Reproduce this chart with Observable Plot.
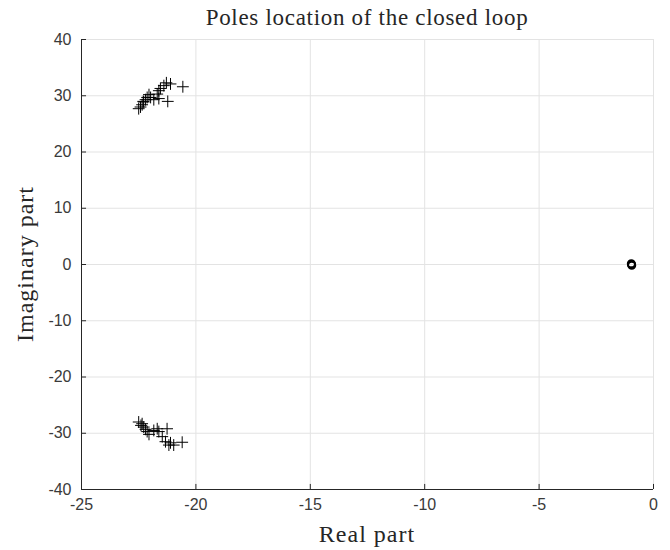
<!DOCTYPE html>
<html>
<head>
<meta charset="utf-8">
<script src="https://cdn.jsdelivr.net/npm/d3@7"></script>
<script src="https://cdn.jsdelivr.net/npm/@observablehq/plot@0.6"></script>
<style>
  html, body { margin: 0; padding: 0; background: #fff; }
  #wrap { position: relative; width: 670px; height: 550px; }
  .lbl { position: absolute; font-family: "Liberation Serif", "DejaVu Serif", serif; color: #262626; white-space: nowrap; line-height: 1; }
</style>
</head>
<body>
<div id="wrap">
  <div class="lbl" id="title" style="left:367px; top:6px; transform:translateX(-50%); font-size:23px; letter-spacing:0.7px;">Poles location of the closed loop</div>
  <div class="lbl" id="xlab" style="left:367px; top:522px; transform:translateX(-50%); font-size:24px; letter-spacing:1px;">Real part</div>
  <div class="lbl" id="ylab" style="left:25px; top:264px; transform:translate(-50%,-50%) rotate(-90deg); font-size:24px; letter-spacing:1px;">Imaginary part</div>
</div>
<script>
// Closed-loop poles (upper half-plane)
const poleRe = [-20.57, -21.11, -21.29, -21.40, -21.55, -21.62, -21.69, -21.62, -21.23, -21.84, -21.98, -22.13, -22.20, -22.28, -22.35, -22.42, -22.50, -22.30, -22.05];
const poleIm = [31.6, 32.1, 32.3, 31.8, 31.3, 30.9, 30.3, 29.5, 29.0, 29.3, 29.7, 29.7, 29.3, 28.9, 28.4, 28.0, 27.7, 29.0, 30.2];
// Lower half-plane poles
const lowRe = [-22.50, -22.35, -22.28, -22.20, -22.13, -21.84, -21.69, -21.62, -21.26, -21.47, -21.33, -21.18, -20.97, -20.60, -21.11, -22.40, -22.05];
const lowIm = [-28.0, -28.3, -28.9, -29.3, -29.7, -29.5, -29.2, -29.7, -29.2, -30.6, -31.5, -32.1, -32.1, -31.6, -31.7, -28.6, -30.2];
// Real poles marked with circles
const zeroRe = [-0.97, -0.95, -0.96];
const zeroIm = [0.15, -0.15, 0];

const xTicks = [-25, -20, -15, -10, -5, 0];
const yTicks = [-40, -30, -20, -10, 0, 10, 20, 30, 40];

const crosses = poleRe.map((r, i) => ({re: r, im: poleIm[i]}))
  .concat(lowRe.map((r, i) => ({re: r, im: lowIm[i]})));
const circles = zeroRe.map((r, i) => ({re: r, im: zeroIm[i]}));

const axisColor = "#262626";
const fmt = d => String(d);
const chart = Plot.plot({
  width: 670,
  height: 550,
  marginTop: 39,
  marginBottom: 61,
  marginLeft: 81,
  marginRight: 17,
  style: {fontFamily: "'Liberation Sans', Arial, sans-serif", fontSize: "16px", color: axisColor, background: "#fff"},
  x: {domain: [-25, 0]},
  y: {domain: [-40, 40]},
  marks: [
    Plot.gridX(xTicks, {stroke: "#e3e3e3", strokeOpacity: 1}),
    Plot.gridY(yTicks, {stroke: "#e3e3e3", strokeOpacity: 1}),
    Plot.axisX(xTicks, {tickSize: 0, tickPadding: 9, tickFormat: fmt, label: null, fontSize: 16, fill: "#3a3a3a"}),
    Plot.axisY(yTicks, {tickSize: 0, tickPadding: 10, tickFormat: fmt, label: null, fontSize: 16, fill: "#3a3a3a"}),
    // inward ticks
    Plot.ruleX(xTicks, {y1: -40, y2: -39.1, stroke: axisColor}),
    Plot.ruleY(yTicks, {x1: -25, x2: -24.78, stroke: axisColor}),
    Plot.ruleX([-25], {stroke: axisColor}),
    Plot.ruleY([-40], {stroke: axisColor}),
    Plot.dot(crosses, {x: "re", y: "im", symbol: "plus", r: 3.9, stroke: "black", strokeWidth: 1, fill: "none"}),
    Plot.dot(circles, {x: "re", y: "im", symbol: "circle", r: 3.6, stroke: "black", strokeWidth: 1.8, fill: "none"})
  ]
});
document.getElementById("wrap").prepend(chart);
chart.style.position = "absolute";
chart.style.left = "0";
chart.style.top = "0";
</script>
</body>
</html>
